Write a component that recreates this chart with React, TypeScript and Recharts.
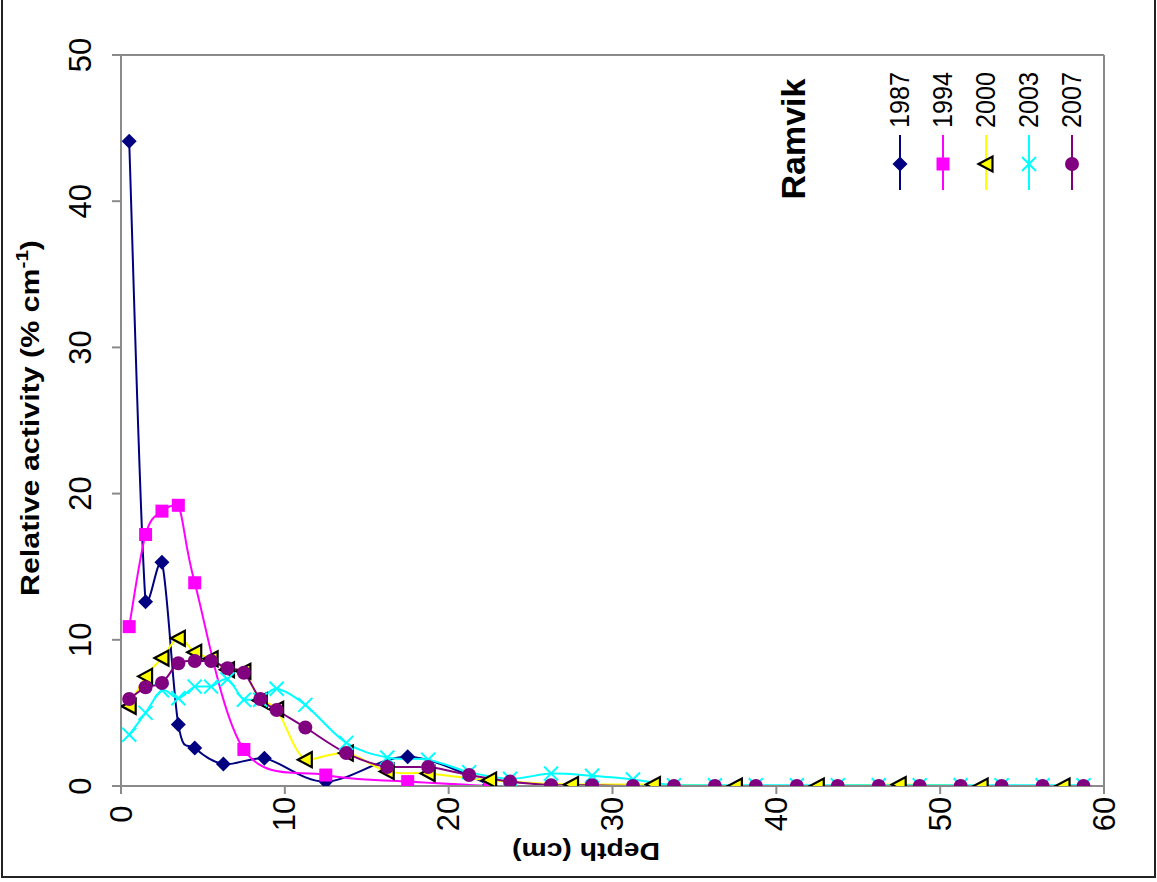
import React from "react";
import { LineChart, Line, XAxis, YAxis, ReferenceLine } from "recharts";

// depth (cm) and relative activity (% cm-1) per sampling year
const DEPTH_1987 = [0.5, 1.5, 2.5, 3.5, 4.5, 6.25, 8.75, 12.5, 17.5, 22.5];
const ACT_1987 = [44.1, 12.6, 15.3, 4.2, 2.6, 1.5, 1.9, 0.3, 2.0, 0.1];

const DEPTH_1994 = [0.5, 1.5, 2.5, 3.5, 4.5, 7.5, 12.5, 17.5, 22.5];
const ACT_1994 = [10.9, 17.2, 18.8, 19.2, 13.9, 2.5, 0.75, 0.3, 0];

const DEPTH_2000 = [0.5, 1.5, 2.5, 3.5, 4.5, 5.5, 6.5, 7.5, 8.5, 9.5, 11.25, 13.75, 16.25, 18.75, 22.5, 27.5, 32.5, 37.5, 42.5, 47.5, 52.5, 57.5];
const ACT_2000 = [5.45, 7.5, 8.75, 10.1, 9.15, 8.7, 7.95, 7.85, 5.85, 5.25, 1.8, 2.25, 1.0, 0.85, 0.4, 0.1, 0.1, 0, 0, 0.1, 0, 0];

const DEPTH_2003 = [0.5, 1.5, 2.5, 3.5, 4.5, 5.5, 6.5, 7.5, 8.5, 9.5, 11.25, 13.75, 16.25, 18.75, 21.25, 23.75, 26.25, 28.75, 31.25, 33.75, 36.25, 38.75, 41.25, 43.75, 46.25, 48.75, 51.25, 53.75, 56.25, 58.75];
const ACT_2003 = [3.5, 5.0, 6.55, 6.0, 6.8, 6.8, 7.3, 5.9, 5.9, 6.65, 5.55, 2.95, 1.95, 1.8, 0.95, 0.5, 0.85, 0.7, 0.45, 0.05, 0.05, 0.05, 0.05, 0.05, 0.05, 0.05, 0.05, 0.05, 0.05, 0.05];

const DEPTH_2007 = [0.5, 1.5, 2.5, 3.5, 4.5, 5.5, 6.5, 7.5, 8.5, 9.5, 11.25, 13.75, 16.25, 18.75, 21.25, 23.75, 26.25, 28.75, 31.25, 33.75, 36.25, 38.75, 41.25, 43.75, 46.25, 48.75, 51.25, 53.75, 56.25, 58.75];
const ACT_2007 = [5.95, 6.75, 7.05, 8.4, 8.55, 8.55, 8.05, 7.75, 5.95, 5.2, 4.0, 2.25, 1.3, 1.3, 0.75, 0.3, 0.05, 0.05, 0, 0, 0, 0, 0, 0, 0, 0, 0, 0, 0, 0];

const X_TICKS = [0, 10, 20, 30, 40, 50, 60];
const Y_TICKS = [0, 10, 20, 30, 40, 50];

const FONT = "'Liberation Sans', Arial, sans-serif";
const AXIS_GREY = "#8a8a8a";

const zip = (xs: number[], ys: number[]) => xs.map((x, i) => ({ x, y: ys[i] }));

// Excel-style smoothed line: cubic segments with tangents limited so
// the curve doesn't dip much past a point (close to the spreadsheet look)
const excelCurve = (context: any) => {
  let pts: number[][] = [];
  return {
    areaStart() {},
    areaEnd() {},
    lineStart() {
      pts = [];
    },
    point(x: number, y: number) {
      pts.push([+x, +y]);
    },
    lineEnd() {
      const n = pts.length;
      if (!n) return;
      context.moveTo(pts[0][0], pts[0][1]);
      for (let i = 0; i < n - 1; i++) {
        const p0 = pts[Math.max(i - 1, 0)];
        const p1 = pts[i];
        const p2 = pts[i + 1];
        const p3 = pts[Math.min(i + 2, n - 1)];
        const dy = p2[1] - p1[1];
        let c1y = (p2[1] - p0[1]) / 6;
        let c2y = (p3[1] - p1[1]) / 6;
        // keep the control points from going far past the segment ends
        if (Math.abs(c1y) > Math.abs(dy) * 0.5 && Math.sign(c1y) !== Math.sign(dy)) c1y = -dy * 0.1;
        if (Math.abs(c2y) > Math.abs(dy) * 0.5 && Math.sign(c2y) !== Math.sign(dy)) c2y = -dy * 0.1;
        context.bezierCurveTo(
          p1[0] + (p2[0] - p0[0]) / 6,
          p1[1] + c1y,
          p2[0] - (p3[0] - p1[0]) / 6,
          p2[1] - c2y,
          p2[0],
          p2[1]
        );
      }
    },
  };
};

type Kind = "diamond" | "square" | "triangle" | "cross" | "circle";

const Marker = ({ kind, cx, cy, color }: { kind: Kind; cx: number; cy: number; color: string }) => {
  if (kind === "diamond")
    return <polygon points={`${cx},${cy - 7.5} ${cx + 7.5},${cy} ${cx},${cy + 7.5} ${cx - 7.5},${cy}`} fill={color} />;
  if (kind === "square") return <rect x={cx - 6.5} y={cy - 6.5} width={13} height={13} fill={color} />;
  if (kind === "triangle")
    return (
      <polygon
        points={`${cx - 7.5},${cy} ${cx + 6.5},${cy - 7.5} ${cx + 6.5},${cy + 7.5}`}
        fill={color}
        stroke="#000"
        strokeWidth={2.2}
        strokeLinejoin="miter"
      />
    );
  if (kind === "cross")
    return (
      <g stroke={color} strokeWidth={2}>
        <line x1={cx - 7} y1={cy - 7} x2={cx + 7} y2={cy + 7} />
        <line x1={cx - 7} y1={cy + 7} x2={cx + 7} y2={cy - 7} />
      </g>
    );
  return <circle cx={cx} cy={cy} r={7} fill={color} />;
};

const SERIES: { name: string; data: { x: number; y: number }[]; color: string; kind: Kind }[] = [
  { name: "1987", data: zip(DEPTH_1987, ACT_1987), color: "#000080", kind: "diamond" },
  { name: "1994", data: zip(DEPTH_1994, ACT_1994), color: "#ff00ff", kind: "square" },
  { name: "2000", data: zip(DEPTH_2000, ACT_2000), color: "#ffff00", kind: "triangle" },
  { name: "2003", data: zip(DEPTH_2003, ACT_2003), color: "#00ffff", kind: "cross" },
  { name: "2007", data: zip(DEPTH_2007, ACT_2007), color: "#800080", kind: "circle" },
];

const XTick = ({ x, payload }: any) => (
  <text
    transform={`translate(${x},814) rotate(-90)`}
    textAnchor="middle"
    dominantBaseline="central"
    fontSize={31}
    fontFamily={FONT}
    fill="#000"
  >
    {payload.value}
  </text>
);

const YTick = ({ y, payload }: any) => (
  <text
    transform={`translate(80,${y}) rotate(-90)`}
    textAnchor="middle"
    dominantBaseline="central"
    fontSize={31}
    fontFamily={FONT}
    fill="#000"
  >
    {payload.value}
  </text>
);

const XTitle = () => (
  <text
    transform="translate(586,843) rotate(180)"
    textAnchor="middle"
    fontSize={24}
    fontWeight="bold"
    fontFamily={FONT}
    textLength={148}
    lengthAdjust="spacingAndGlyphs"
    fill="#000"
  >
    Depth (cm)
  </text>
);

const YTitle = () => (
  <text
    transform="translate(39,418) rotate(-90)"
    textAnchor="middle"
    fontSize={25}
    fontWeight="bold"
    fontFamily={FONT}
    textLength={356}
    lengthAdjust="spacingAndGlyphs"
    fill="#000"
  >
    Relative activity (% cm
    <tspan fontSize={17} dy={-11}>
      -1
    </tspan>
    <tspan dy={11}>)</tspan>
  </text>
);

const LEGEND_X = [900, 943, 986, 1029, 1072];

const LegendOverlay = () => (
  <svg width={1157} height={882} style={{ position: "absolute", left: 0, top: 0, pointerEvents: "none" }}>
    <text
      transform="translate(805,139) rotate(-90)"
      textAnchor="middle"
      fontSize={34}
      fontWeight="bold"
      fontFamily={FONT}
      fill="#000"
    >
      Ramvik
    </text>
    {SERIES.map((s, i) => {
      const lx = LEGEND_X[i];
      return (
        <g key={s.name}>
          <text
            transform={`translate(${lx + 9},100) rotate(-90)`}
            textAnchor="middle"
            fontSize={28}
            fontFamily={FONT}
            textLength={56}
            lengthAdjust="spacingAndGlyphs"
            fill="#000"
          >
            {s.name}
          </text>
          <line x1={lx} y1={135} x2={lx} y2={190} stroke={s.color} strokeWidth={2} />
          <Marker kind={s.kind} cx={lx} cy={164} color={s.color} />
        </g>
      );
    })}
  </svg>
);

export default function App() {
  return (
    <div style={{ position: "absolute", left: 0, top: 0, width: 1157, height: 882, overflow: "hidden", background: "#fff" }}>
      <div
        style={{
          position: "absolute",
          left: 1,
          top: -2,
          width: 1155,
          height: 880,
          border: "2px solid #222",
          boxSizing: "border-box",
        }}
      />
      <div style={{ position: "absolute", left: 0, top: 0 }}>
        <LineChart width={1157} height={882} margin={{ top: 55, right: 53, left: 0, bottom: 0 }}>
          <XAxis
            dataKey="x"
            type="number"
            domain={[0, 60]}
            ticks={X_TICKS}
            allowDataOverflow
            height={96}
            stroke={AXIS_GREY}
            strokeWidth={2}
            tickSize={8}
            tick={<XTick />}
            label={<XTitle />}
          />
          <YAxis
            type="number"
            domain={[0, 50]}
            ticks={Y_TICKS}
            allowDataOverflow
            width={121}
            stroke={AXIS_GREY}
            strokeWidth={2}
            tickSize={9}
            tick={<YTick />}
            label={<YTitle />}
          />
          <ReferenceLine y={50} stroke={AXIS_GREY} strokeWidth={2} />
          <ReferenceLine x={60} stroke={AXIS_GREY} strokeWidth={2} />
          {SERIES.map((s) => (
            <Line
              key={s.name}
              data={s.data}
              dataKey="y"
              name={s.name}
              type={excelCurve as any}
              stroke={s.color}
              strokeWidth={2}
              isAnimationActive={false}
              dot={(p: any) => <Marker key={`${s.name}-${p.index}`} kind={s.kind} cx={p.cx} cy={p.cy} color={s.color} />}
              activeDot={false}
            />
          ))}
        </LineChart>
      </div>
      <LegendOverlay />
    </div>
  );
}
